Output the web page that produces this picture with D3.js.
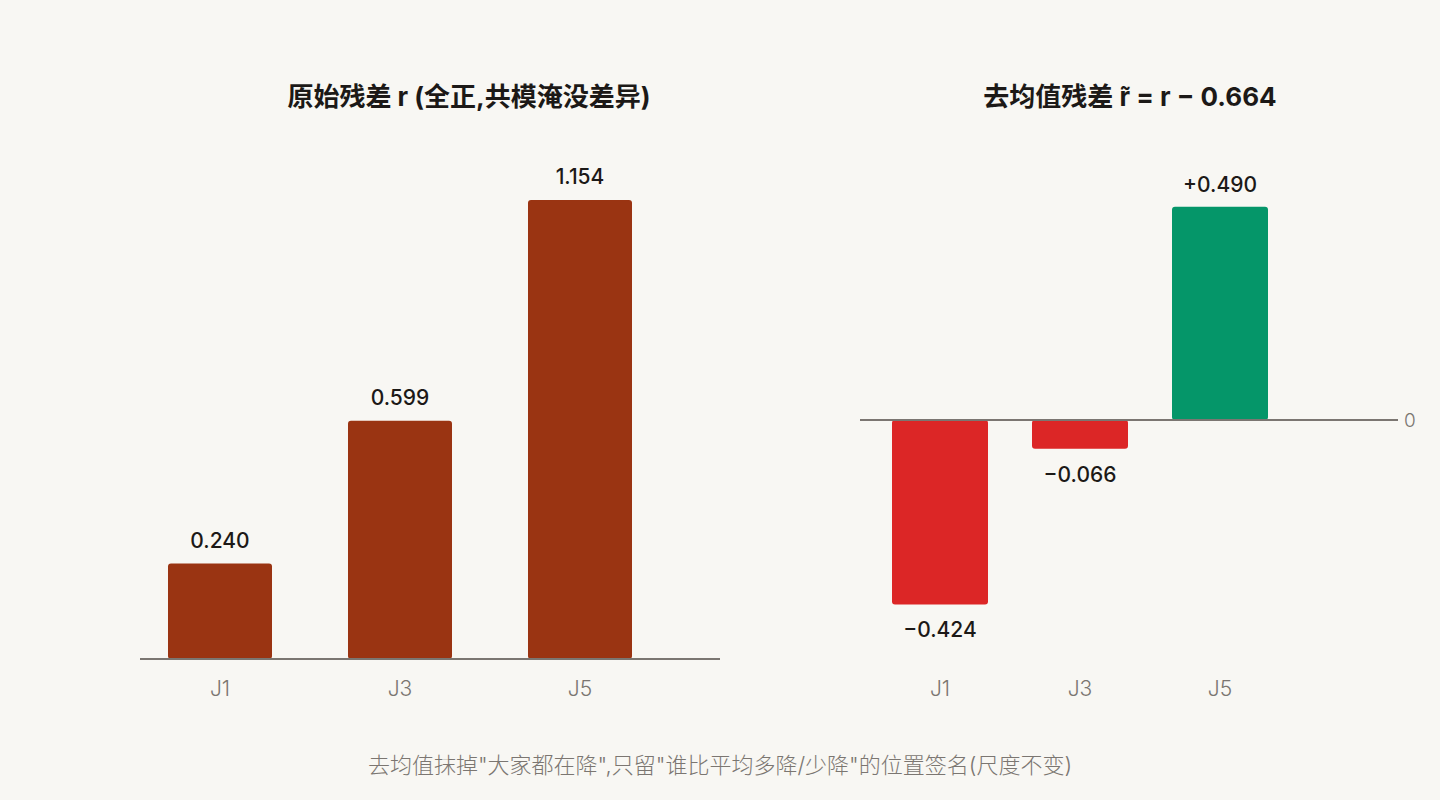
<!DOCTYPE html>
<html>
<head>
<meta charset="utf-8">
<script src="https://cdn.jsdelivr.net/npm/d3@7"></script>
<style>
  body { margin: 0; background: #f8f7f3; }
  svg { display: block; font-family: Inter, "Noto Sans CJK SC", sans-serif; }
</style>
</head>
<body>
<svg id="chart" width="1440" height="800"></svg>
<script>
// data
const categories = ["J1", "J3", "J5"];
const rawResid = [0.240, 0.599, 1.154];
const centeredResid = [-0.424, -0.066, 0.490];

const leftTitle = "原始残差 r (全正,共模淹没差异)";
const rightTitle = "去均值残差 r\u0303 = r − 0.664";
const footNote = "去均值抹掉\"大家都在降\",只留\"谁比平均多降/少降\"的位置签名(尺度不变)";

const svg = d3.select("#chart");
const axisColor = "#7b7671";
const labelGray = "#7b7671";
const inkColor = "#1c1917";

svg.append("rect").attr("width", 1440).attr("height", 800).attr("fill", "#f8f7f3");

// ---------- left panel: raw residuals ----------
let xLeft = d3.scaleBand()
    .domain(categories)
    .range([130, 670])
    .paddingInner(0.4222)
    .paddingOuter(0.2111);

let yLeft = d3.scaleLinear()
    .domain([0, 1.33])
    .range([659, 130]);

let left = svg.append("g");

left.selectAll("rect.bar")
    .data(categories)
    .enter().append("rect")
    .attr("class", "bar")
    .attr("x", d => xLeft(d))
    .attr("width", xLeft.bandwidth())
    .attr("y", (d, i) => yLeft(rawResid[i]))
    .attr("height", (d, i) => yLeft(0) - yLeft(rawResid[i]))
    .attr("rx", 3)
    .attr("fill", "#9a3412");

left.append("line")
    .attr("x1", 140).attr("x2", 720)
    .attr("y1", yLeft(0)).attr("y2", yLeft(0))
    .attr("stroke", axisColor).attr("stroke-width", 2);

left.selectAll("text.val")
    .data(categories)
    .enter().append("text")
    .attr("class", "val")
    .attr("x", d => xLeft(d) + xLeft.bandwidth() / 2)
    .attr("y", (d, i) => yLeft(rawResid[i]) - 16)
    .attr("text-anchor", "middle")
    .attr("font-size", 21).attr("font-weight", 500)
    .attr("fill", inkColor)
    .text((d, i) => d3.format(".3f")(rawResid[i]));

left.selectAll("text.cat")
    .data(categories)
    .enter().append("text")
    .attr("class", "cat")
    .attr("x", d => xLeft(d) + xLeft.bandwidth() / 2)
    .attr("y", 696)
    .attr("text-anchor", "middle")
    .attr("font-size", 21).attr("font-weight", 300)
    .attr("fill", labelGray)
    .text(d => d);

left.append("text")
    .attr("x", 469).attr("y", 106)
    .attr("text-anchor", "middle")
    .attr("font-size", 26).attr("font-weight", 700)
    .attr("fill", inkColor)
    .text(leftTitle);

// ---------- right panel: mean-removed residuals ----------
let xRight = d3.scaleBand()
    .domain(categories)
    .range([864, 1296])
    .paddingInner(0.3143)
    .paddingOuter(0.2);

let yRight = d3.scaleLinear()
    .domain([-0.6, 0.6])
    .range([681, 159]);

let right = svg.append("g");

right.selectAll("rect.bar")
    .data(categories)
    .enter().append("rect")
    .attr("class", "bar")
    .attr("x", d => xRight(d))
    .attr("width", xRight.bandwidth())
    .attr("y", (d, i) => yRight(Math.max(0, centeredResid[i])))
    .attr("height", (d, i) => Math.abs(yRight(centeredResid[i]) - yRight(0)))
    .attr("rx", 3)
    .attr("fill", (d, i) => centeredResid[i] < 0 ? "#dc2626" : "#059669");

right.append("line")
    .attr("x1", 860).attr("x2", 1398)
    .attr("y1", yRight(0)).attr("y2", yRight(0))
    .attr("stroke", axisColor).attr("stroke-width", 2);

right.append("text")
    .attr("x", 1404).attr("y", yRight(0) + 7)
    .attr("font-size", 19).attr("font-weight", 300)
    .attr("fill", labelGray)
    .text("0");

right.selectAll("text.val")
    .data(categories)
    .enter().append("text")
    .attr("class", "val")
    .attr("x", d => xRight(d) + xRight.bandwidth() / 2)
    .attr("y", (d, i) => centeredResid[i] < 0
        ? yRight(centeredResid[i]) + 33
        : yRight(centeredResid[i]) - 15)
    .attr("text-anchor", "middle")
    .attr("font-size", 21).attr("font-weight", 500)
    .attr("fill", inkColor)
    .text((d, i) => d3.format("+.3f")(centeredResid[i]).replace("-", "−"));

right.selectAll("text.cat")
    .data(categories)
    .enter().append("text")
    .attr("class", "cat")
    .attr("x", d => xRight(d) + xRight.bandwidth() / 2)
    .attr("y", 696)
    .attr("text-anchor", "middle")
    .attr("font-size", 21).attr("font-weight", 300)
    .attr("fill", labelGray)
    .text(d => d);

right.append("text")
    .attr("x", 1130).attr("y", 106)
    .attr("text-anchor", "middle")
    .attr("font-size", 26).attr("font-weight", 700)
    .attr("fill", inkColor)
    .text(rightTitle);

// footnote
svg.append("text")
    .attr("x", 720).attr("y", 773)
    .attr("text-anchor", "middle")
    .attr("font-size", 22).attr("font-weight", 300)
    .attr("fill", labelGray)
    .text(footNote);
</script>
</body>
</html>
